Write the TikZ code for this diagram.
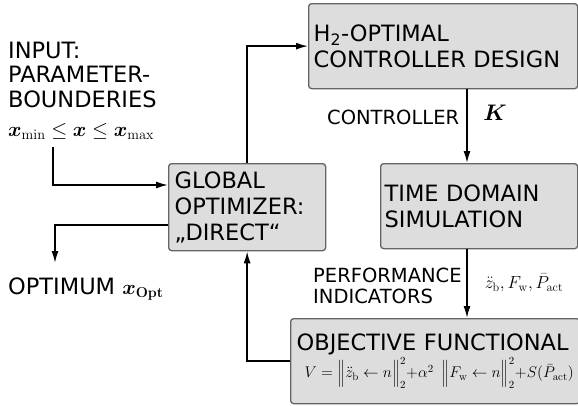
\RequirePackage{fix-cm}
\documentclass[tikz,border=0pt]{standalone}
\usepackage{amsmath}
\usepackage[no-math]{fontspec}
\setmainfont{DejaVu Sans}
\usetikzlibrary{arrows.meta}
\definecolor{boxfill}{RGB}{221,221,221}
\definecolor{boxline}{RGB}{100,100,100}
\tikzset{
  box/.style={draw=boxline, line width=1.3pt, fill=boxfill, rounded corners=3pt,
    anchor=north west, align=left, inner xsep=5pt, inner ysep=0pt,
    font=\fontsize{22.5}{26}\selectfont},
  lbl/.style={inner sep=0pt, align=left, font=\fontsize{22.5}{24.5}\selectfont},
  small/.style={font=\fontsize{19.5}{21}\selectfont},
  arr/.style={line width=1.6pt, -{Latex[length=12pt,width=7pt]}}
}
\begin{document}
\begin{tikzpicture}[x=1pt,y=-1pt]
\useasboundingbox (0,0) rectangle (578,405);
% boxes
\node[box, minimum width=269pt, minimum height=85pt, text width=259pt] (h2) at (308,3)
  {H\textsubscript{2}-OPTIMAL\\CONTROLLER DESIGN};
\node[box, minimum width=197pt, minimum height=85pt, text width=189pt, inner xsep=4pt] (td) at (380,163)
  {TIME DOMAIN\\SIMULATION};
\node[box, minimum width=157pt, minimum height=87pt, text width=145pt, inner xsep=6pt] (glob) at (168,163)
  {GLOBAL\\OPTIMIZER:\\„DIRECT“};
\node[box, minimum width=287pt, minimum height=85pt, text width=277pt, inner xsep=6pt] (obj) at (290,318)
  {OBJECTIVE FUNCTIONAL\\[1pt]
   \hspace*{8pt}\fontsize{15.5}{17}\selectfont
   $V=\Bigl\|\ddot z_{\mathrm{b}}\leftarrow n\Bigr\|_2^2+\alpha^2\ \Bigl\|F_{\mathrm{w}}\leftarrow n\Bigr\|_2^2+S(\bar P_{\mathrm{act}})$\\[-5pt]};
% labels
\node[lbl, anchor=base west] (inp) at (8,107) {INPUT:\\PARAMETER-\\BOUNDERIES};
\node[lbl, anchor=base west, font=\fontsize{20.5}{22}\selectfont] (range) at (8,136)
  {$\boldsymbol{x}_{\mathrm{min}}\le \boldsymbol{x}\le \boldsymbol{x}_{\mathrm{max}}$};
\node[lbl, anchor=base west] (opt) at (8,294)
  {OPTIMUM {\fontsize{20.5}{22}\selectfont$\boldsymbol{x}_{\mathbf{Opt}}$}};
\node[lbl, small, anchor=base west] (ctrl) at (327,124) {CONTROLLER};
\node[lbl] (k) at (495,113) {$\boldsymbol{K}$};
\node[lbl, small, anchor=base west] (perf) at (313,303) {PERFORMANCE\\INDICATORS};
\node[lbl, font=\fontsize{17.5}{20}\selectfont] (ind) at (524,283)
  {$\ddot z_{\mathrm{b}}, F_{\mathrm{w}}, \bar P_{\mathrm{act}}$};
% coordinates
\coordinate (col) at (467,0);
\coordinate (inst) at (53,147);
\coordinate (iny) at (0,185);
\coordinate (outy) at (0,225);
\coordinate (oend) at (55,263);
% connectors
\draw[arr] (glob.north) |- (h2.west);
\draw[arr] (col |- h2.south) -- (col |- td.north);
\draw[arr] (col |- td.south) -- (col |- obj.north);
\draw[arr] (obj.west) -| (glob.south);
\draw[arr] (inst) |- (glob.west |- iny);
\draw[arr] (glob.west |- outy) -| (oend);
\end{tikzpicture}
\end{document}
